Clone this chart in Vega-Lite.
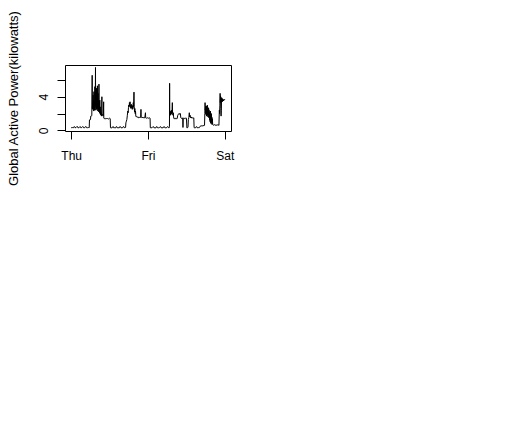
{
  "$schema": "https://vega.github.io/schema/vega-lite/v6.json",
  "autosize": "none",
  "width": 166,
  "height": 66,
  "padding": {"left": 65, "top": 65, "right": 298, "bottom": 293},
  "background": "white",
  "config": {
    "view": {"stroke": "black", "strokeWidth": 1},
    "font": "Liberation Sans",
    "axis": {"grid": false, "domain": false, "tickColor": "black", "tickSize": 8, "labelColor": "black", "labelFontSize": 12, "labelFont": "Liberation Sans", "titleFont": "Liberation Sans", "titleColor": "black", "titleFontWeight": "normal"}
  },
  "data": {"values": [
    {"h":0.00,"p":0.33},{"h":0.25,"p":0.32},{"h":0.50,"p":0.34},{"h":0.70,"p":0.32},{"h":0.90,"p":0.45},{"h":1.05,"p":0.44},{"h":1.20,"p":0.32},{"h":1.50,"p":0.33},{"h":1.80,"p":0.47},{"h":1.95,"p":0.46},{"h":2.10,"p":0.32},{"h":2.40,"p":0.31},{"h":2.70,"p":0.44},{"h":2.85,"p":0.45},{"h":3.00,"p":0.32},{"h":3.30,"p":0.33},{"h":3.60,"p":0.46},{"h":3.75,"p":0.44},{"h":3.90,"p":0.32},{"h":4.20,"p":0.31},{"h":4.50,"p":0.45},{"h":4.65,"p":0.46},{"h":4.80,"p":0.33},{"h":5.10,"p":0.32},{"h":5.40,"p":0.34},{"h":5.65,"p":0.33},
    {"h":5.72,"p":1.25},{"h":5.90,"p":1.3},{"h":6.05,"p":1.28},{"h":6.12,"p":1.7},{"h":6.30,"p":1.72},{"h":6.45,"p":1.75},
    {"h":6.57,"p":6.55},{"h":6.62,"p":2.6},{"h":6.70,"p":3.2},{"h":6.77,"p":2.5},{"h":6.84,"p":4.2},{"h":6.91,"p":2.6},{"h":6.98,"p":3.6},{"h":7.05,"p":2.3},{"h":7.12,"p":4.6},{"h":7.19,"p":2.8},{"h":7.26,"p":3.3},{"h":7.33,"p":2.4},{"h":7.40,"p":5.2},{"h":7.47,"p":2.9},{"h":7.54,"p":3.4},{"h":7.60,"p":7.48},{"h":7.64,"p":3.0},{"h":7.71,"p":2.4},{"h":7.78,"p":4.1},{"h":7.85,"p":2.7},{"h":7.92,"p":5.0},{"h":7.99,"p":2.5},{"h":8.06,"p":3.8},{"h":8.13,"p":2.6},{"h":8.20,"p":5.3},{"h":8.27,"p":3.0},{"h":8.34,"p":2.3},{"h":8.41,"p":4.4},{"h":8.48,"p":2.6},{"h":8.55,"p":3.5},{"h":8.62,"p":2.2},{"h":8.68,"p":5.5},{"h":8.74,"p":2.4},{"h":8.81,"p":3.4},{"h":8.88,"p":2.1},{"h":8.95,"p":3.6},{"h":9.02,"p":2.0},{"h":9.09,"p":2.8},{"h":9.16,"p":1.9},{"h":9.23,"p":2.2},{"h":9.30,"p":1.8},{"h":9.40,"p":2.0},{"h":9.50,"p":1.7},{"h":9.60,"p":4.0},{"h":9.66,"p":1.9},{"h":9.75,"p":1.8},{"h":9.85,"p":1.9},{"h":9.95,"p":1.7},{"h":10.05,"p":1.8},{"h":10.15,"p":3.4},{"h":10.20,"p":1.45},{"h":10.40,"p":1.4},{"h":10.60,"p":1.45},{"h":10.80,"p":1.35},{"h":11.00,"p":1.4},{"h":11.20,"p":1.45},{"h":11.40,"p":1.4},{"h":11.60,"p":1.35},{"h":11.80,"p":1.4},{"h":12.00,"p":1.45},{"h":12.20,"p":1.4},
    {"h":12.28,"p":0.32},{"h":12.50,"p":0.3},{"h":12.80,"p":0.31},{"h":13.00,"p":0.44},{"h":13.15,"p":0.45},{"h":13.30,"p":0.31},{"h":13.60,"p":0.32},{"h":13.90,"p":0.3},{"h":14.10,"p":0.46},{"h":14.25,"p":0.44},{"h":14.40,"p":0.31},{"h":14.70,"p":0.32},{"h":15.00,"p":0.3},{"h":15.20,"p":0.45},{"h":15.40,"p":0.44},{"h":15.55,"p":0.32},{"h":15.85,"p":0.31},{"h":16.10,"p":0.33},{"h":16.30,"p":0.46},{"h":16.45,"p":0.45},{"h":16.60,"p":0.32},{"h":16.85,"p":0.33},{"h":17.00,"p":0.35},
    {"h":17.10,"p":0.9},{"h":17.25,"p":1.1},{"h":17.40,"p":1.3},{"h":17.55,"p":1.8},{"h":17.70,"p":2.3},{"h":17.80,"p":2.1},{"h":17.90,"p":2.7},{"h":18.00,"p":3.0},{"h":18.10,"p":2.8},{"h":18.20,"p":3.3},{"h":18.30,"p":2.9},{"h":18.40,"p":3.4},{"h":18.50,"p":2.7},{"h":18.60,"p":3.0},{"h":18.70,"p":2.6},{"h":18.80,"p":3.1},{"h":18.90,"p":2.7},{"h":19.00,"p":3.0},{"h":19.10,"p":2.5},{"h":19.20,"p":2.9},{"h":19.30,"p":2.6},{"h":19.40,"p":3.3},{"h":19.50,"p":2.8},{"h":19.62,"p":4.55},{"h":19.70,"p":2.8},{"h":19.80,"p":2.2},{"h":19.90,"p":2.6},{"h":20.00,"p":2.0},{"h":20.10,"p":2.3},{"h":20.20,"p":1.7},{"h":20.35,"p":1.6},{"h":20.50,"p":1.65},{"h":20.65,"p":1.55},{"h":20.80,"p":1.6},{"h":20.95,"p":1.6},{"h":21.10,"p":1.5},{"h":21.30,"p":1.55},{"h":21.50,"p":1.5},{"h":21.70,"p":1.55},{"h":21.80,"p":2.5},{"h":21.88,"p":1.6},{"h":22.10,"p":1.5},{"h":22.40,"p":1.55},{"h":22.70,"p":1.5},{"h":23.00,"p":1.5},{"h":23.20,"p":2.1},{"h":23.28,"p":1.5},{"h":23.50,"p":1.45},{"h":23.80,"p":1.5},{"h":24.10,"p":1.45},{"h":24.40,"p":1.5},{"h":24.65,"p":1.45},
    {"h":24.72,"p":0.32},{"h":25.00,"p":0.31},{"h":25.30,"p":0.33},{"h":25.55,"p":0.45},{"h":25.70,"p":0.44},{"h":25.85,"p":0.32},{"h":26.15,"p":0.31},{"h":26.45,"p":0.3},{"h":26.65,"p":0.44},{"h":26.80,"p":0.46},{"h":26.95,"p":0.32},{"h":27.25,"p":0.31},{"h":27.55,"p":0.33},{"h":27.80,"p":0.45},{"h":27.95,"p":0.44},{"h":28.10,"p":0.31},{"h":28.40,"p":0.32},{"h":28.70,"p":0.3},{"h":28.95,"p":0.45},{"h":29.10,"p":0.44},{"h":29.25,"p":0.32},{"h":29.55,"p":0.31},{"h":29.85,"p":0.33},{"h":30.10,"p":0.45},{"h":30.25,"p":0.44},{"h":30.40,"p":0.32},{"h":30.65,"p":0.33},
    {"h":30.70,"p":0.5},{"h":30.75,"p":5.6},{"h":30.80,"p":1.9},{"h":30.90,"p":2.3},{"h":31.00,"p":1.8},{"h":31.10,"p":2.2},{"h":31.20,"p":1.9},{"h":31.30,"p":2.4},{"h":31.40,"p":2.0},{"h":31.50,"p":2.2},{"h":31.60,"p":3.3},{"h":31.68,"p":2.0},{"h":31.80,"p":1.8},{"h":31.90,"p":2.1},{"h":32.00,"p":1.6},{"h":32.10,"p":1.4},{"h":32.30,"p":1.4},{"h":32.50,"p":1.45},{"h":32.70,"p":1.35},{"h":32.90,"p":1.4},{"h":33.10,"p":1.4},{"h":33.30,"p":1.8},{"h":33.40,"p":1.9},{"h":33.55,"p":1.95},{"h":33.70,"p":1.9},{"h":33.85,"p":2.0},{"h":34.00,"p":1.9},{"h":34.10,"p":2.0},{"h":34.25,"p":1.5},{"h":34.40,"p":1.45},{"h":34.70,"p":1.4},{"h":34.85,"p":1.5},{"h":34.92,"p":0.35},{"h":35.00,"p":1.4},{"h":35.20,"p":1.45},{"h":35.40,"p":1.4},{"h":35.60,"p":1.5},{"h":35.80,"p":1.4},{"h":36.00,"p":1.45},{"h":36.15,"p":0.3},{"h":36.35,"p":0.32},{"h":36.50,"p":0.4},{"h":36.60,"p":1.3},{"h":36.75,"p":1.5},{"h":36.90,"p":2.1},{"h":37.00,"p":1.6},{"h":37.15,"p":1.8},{"h":37.30,"p":1.5},{"h":37.50,"p":1.6},{"h":37.70,"p":1.45},{"h":37.90,"p":1.5},{"h":38.10,"p":1.45},{"h":38.30,"p":1.5},
    {"h":38.40,"p":0.33},{"h":38.60,"p":0.31},{"h":38.90,"p":0.32},{"h":39.10,"p":0.45},{"h":39.25,"p":0.44},{"h":39.40,"p":0.31},{"h":39.70,"p":0.33},{"h":40.00,"p":0.32},{"h":40.30,"p":0.5},{"h":40.60,"p":0.55},{"h":40.90,"p":0.52},{"h":41.20,"p":0.58},{"h":41.50,"p":0.55},{"h":41.65,"p":0.6},
    {"h":41.75,"p":2.0},{"h":41.82,"p":3.3},{"h":41.89,"p":2.4},{"h":41.96,"p":2.8},{"h":42.03,"p":1.9},{"h":42.10,"p":2.9},{"h":42.17,"p":2.1},{"h":42.24,"p":2.6},{"h":42.31,"p":1.7},{"h":42.38,"p":2.9},{"h":42.45,"p":2.2},{"h":42.52,"p":3.0},{"h":42.59,"p":1.8},{"h":42.66,"p":2.5},{"h":42.73,"p":1.6},{"h":42.80,"p":2.7},{"h":42.87,"p":1.9},{"h":42.94,"p":2.6},{"h":43.01,"p":1.5},{"h":43.08,"p":2.4},{"h":43.15,"p":1.6},{"h":43.22,"p":2.0},{"h":43.29,"p":1.2},{"h":43.36,"p":2.2},{"h":43.43,"p":1.0},{"h":43.50,"p":2.3},{"h":43.57,"p":0.9},{"h":43.64,"p":1.8},{"h":43.71,"p":0.8},{"h":43.78,"p":2.0},{"h":43.85,"p":1.0},{"h":43.92,"p":1.6},{"h":44.00,"p":0.7},{"h":44.10,"p":1.4},{"h":44.20,"p":0.7},{"h":44.40,"p":0.65},{"h":44.60,"p":0.6},{"h":44.80,"p":0.7},{"h":45.00,"p":0.6},{"h":45.20,"p":0.65},{"h":45.40,"p":0.6},{"h":45.60,"p":0.7},{"h":45.80,"p":0.6},{"h":46.00,"p":0.65},{"h":46.15,"p":0.6},
    {"h":46.28,"p":2.4},{"h":46.36,"p":2.0},{"h":46.44,"p":3.0},{"h":46.52,"p":4.4},{"h":46.58,"p":3.3},{"h":46.66,"p":4.1},{"h":46.74,"p":2.6},{"h":46.82,"p":1.7},{"h":46.90,"p":2.4},{"h":46.98,"p":3.9},{"h":47.06,"p":3.5},{"h":47.14,"p":3.8},{"h":47.22,"p":3.4},{"h":47.30,"p":3.7},{"h":47.40,"p":3.5},{"h":47.50,"p":3.6},{"h":47.60,"p":3.5},{"h":47.70,"p":3.7},{"h":47.80,"p":3.6},{"h":47.90,"p":3.65},{"h":47.98,"p":3.7}
  ]},
  "mark": {"type": "line", "color": "black", "strokeWidth": 1, "clip": true},
  "encoding": {
    "x": {"field": "h", "type": "quantitative", "scale": {"domain": [-1.92, 49.92], "nice": false, "zero": false},
      "axis": {"title": null, "values": [0, 24, 48], "labelExpr": "datum.value == 0 ? 'Thu' : datum.value == 24 ? 'Fri' : 'Sat'", "labelPadding": 11, "labelFlush": false}},
    "y": {"field": "p", "type": "quantitative", "scale": {"domain": [-0.07, 7.77], "nice": false, "zero": false},
      "axis": {"title": "Global Active Power(kilowatts)", "titleFontSize": 13, "titlePadding": 17, "values": [0, 2, 4, 6], "labelExpr": "datum.value % 4 == 0 ? datum.label : ''", "labelAngle": -90, "labelAlign": "center", "labelBaseline": "alphabetic", "labelPadding": 10}}
  }
}
